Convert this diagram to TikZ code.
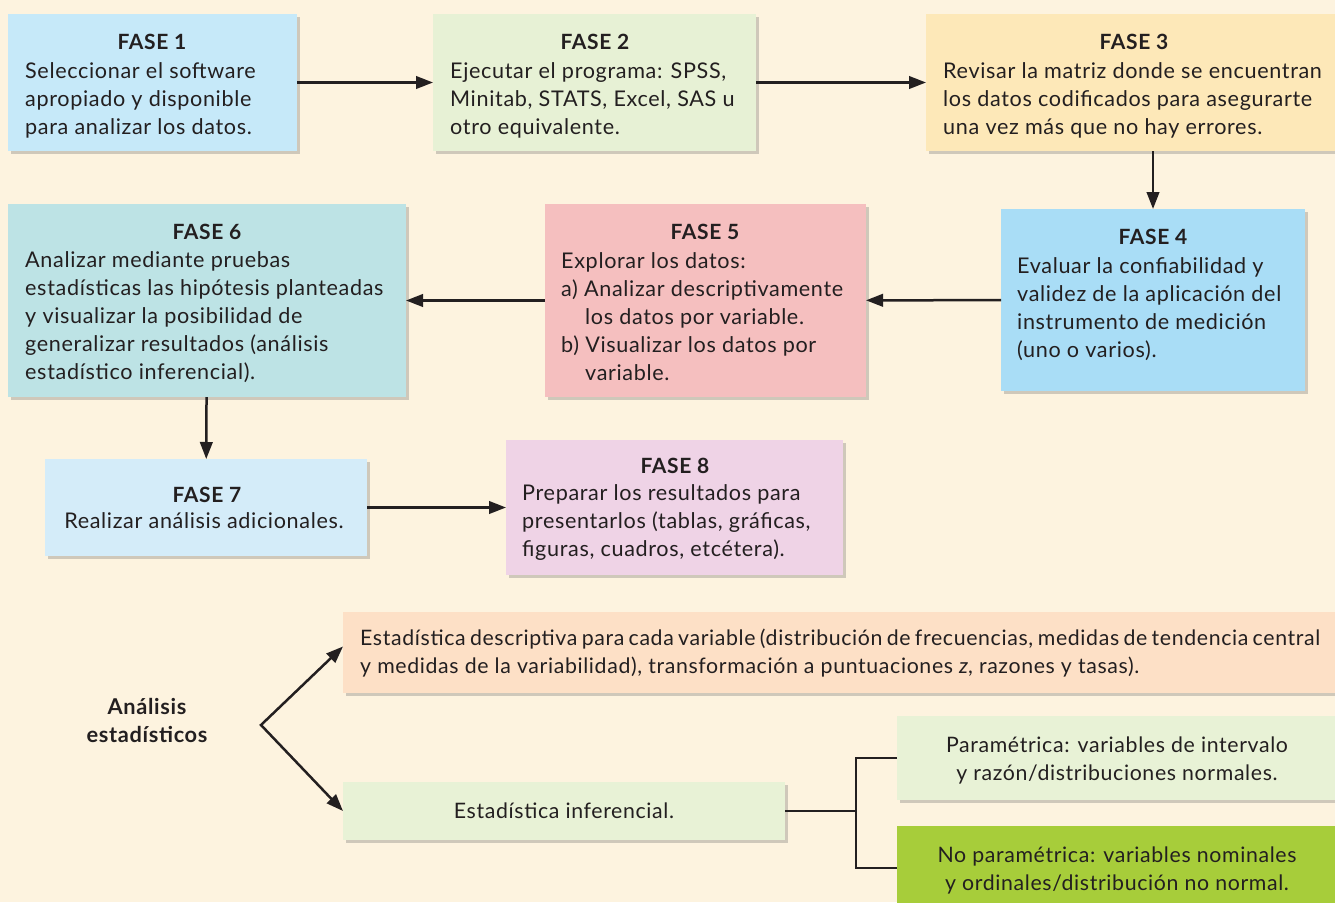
\documentclass[tikz,border=0pt]{standalone}
\usepackage{fontspec}
\setmainfont{Lato}[LetterSpace=3]
\usetikzlibrary{arrows.meta,shadows,calc}
\definecolor{bg}{HTML}{FDF3DF}
\definecolor{cf1}{HTML}{C6E9F9}
\definecolor{cf2}{HTML}{E7F1D5}
\definecolor{cf3}{HTML}{FDE8B8}
\definecolor{cf4}{HTML}{A9DDF6}
\definecolor{cf5}{HTML}{F5BFBF}
\definecolor{cf6}{HTML}{BDE3E5}
\definecolor{cf7}{HTML}{D4ECF9}
\definecolor{cf8}{HTML}{EFD3E6}
\definecolor{cdesc}{HTML}{FDE0C6}
\definecolor{cinf}{HTML}{E8F2D6}
\definecolor{cnp}{HTML}{A7CD3A}
\definecolor{ink}{HTML}{231F20}
\tikzset{
  box/.style={draw=none, inner sep=0pt, outer sep=0pt,
    drop shadow={shadow xshift=2.5pt, shadow yshift=-3pt, opacity=0.3, fill=black!60}},
  title/.style={font=\fontsize{21}{28}\selectfont\bfseries, text=ink, inner sep=0pt, anchor=center},
  body/.style={font=\fontsize{21.6}{28}\selectfont, text=ink, inner sep=0pt, align=left, anchor=west},
  small/.style={font=\fontsize{21.3}{28}\selectfont, text=ink, inner sep=0pt},
  tip/.style={Triangle[length=17pt,width=12.5pt]},
  arr/.style={draw=ink, line width=2.5pt, -{Triangle[length=17pt,width=12.5pt]}},
  lin/.style={draw=ink, line width=2.5pt}
}
\newcommand{\bx}[6]{% name, x1, y1, x2, y2, color
  \node[box, fill=#6, minimum width={(#4-#2)*1pt}, minimum height={(#5-#3)*1pt}] (#1) at ({(#2+#4)/2},{(#3+#5)/2}) {};}
\begin{document}
\begin{tikzpicture}[x=1pt,y=-1pt]
\useasboundingbox (0,0) rectangle (1335,902);
\fill[bg] (0,0) rectangle (1335,902);
% boxes
\bx{f1}{8}{14}{297}{151}{cf1}
\bx{f2}{433}{14}{756}{151}{cf2}
\bx{f3}{926}{14}{1345}{151}{cf3}
\bx{f4}{1001}{209}{1305}{391}{cf4}
\bx{f5}{545}{204}{866}{397}{cf5}
\bx{f6}{8}{204}{406}{397}{cf6}
\bx{f7}{45}{459}{367}{556}{cf7}
\bx{f8}{506}{440}{843}{575}{cf8}
\bx{desc}{343}{612}{1345}{693}{cdesc}
\bx{inf}{343}{782}{785}{840}{cinf}
\bx{param}{897}{716}{1345}{800}{cinf}
\bx{np}{897}{826}{1345}{910}{cnp}
% texts
\node[title] (t1) at (152,42) {FASE 1};
\node[body] (b1) at (25,100) {Seleccionar el software\\apropiado y disponible\\para analizar los datos.};
\node[title] (t2) at (595,42) {FASE 2};
\node[body] (b2) at (450,100) {Ejecutar el programa: SPSS,\\Minitab, STATS, Excel, SAS u\\otro equivalente.};
\node[title] (t3) at (1134,42) {FASE 3};
\node[body] (b3) at (943,100) {Revisar la matriz donde se encuentran\\los datos codificados para asegurarte\\una vez más que no hay errores.};
\node[title] (t4) at (1153,237) {FASE 4};
\node[body] (b4) at (1017,309) {Evaluar la confiabilidad y\\validez de la aplicación del\\instrumento de medición\\(uno o varios).};
\node[title] (t5) at (705,232) {FASE 5};
\node[body] (b5) at (561,317) {Explorar los datos:\\a) Analizar descriptivamente\\\hspace*{24pt}los datos por variable.\\b) Visualizar los datos por\\\hspace*{24pt}variable.};
\node[title] (t6) at (207,232) {FASE 6};
\node[body] (b6) at (25,317) {Analizar mediante pruebas\\estadísticas las hipótesis planteadas\\y visualizar la posibilidad de\\generalizar resultados (análisis\\estadístico inferencial).};
\node[title] (t7) at (207,495) {FASE 7};
\node[body, anchor=center] (b7) at (204,521) {Realizar análisis adicionales.};
\node[title] (t8) at (675,466) {FASE 8};
\node[body] (b8) at (522,523) {Preparar los resultados para\\presentarlos (tablas, gráficas,\\figuras, cuadros, etcétera).};
\node[small, anchor=west, text width=960pt, align=justify] (bd) at (360,653) {Estadística descriptiva para cada variable (distribución de frecuencias, medidas de tendencia central\linebreak y medidas de la variabilidad), transformación a puntuaciones \textit{z}, razones y tasas).};
\node[small] (bi) at (564,811) {Estadística inferencial.};
\node[small, align=center] (bp) at (1117,760) {Paramétrica: variables de intervalo\\y razón/distribuciones normales.};
\node[small, align=center] (bn) at (1117,870) {No paramétrica: variables nominales\\y ordinales/distribución no normal.};
\node[small, font=\fontsize{21.8}{28}\selectfont\bfseries, align=center] (ae) at (147,720) {Análisis\\estadísticos};
% connectors
\draw[arr] (f1) -- (f2);
\draw[arr] (f2) -- (f3);
\draw[arr] (f3.south -| f4.north) -- (f4.north);
\draw[arr] (f4) -- (f5);
\draw[arr] (f5) -- (f6);
\draw[arr] (f6) -- (f7);
\draw[arr] (f7) -- (f8);
\coordinate (v) at (261,725);
\draw[draw=ink, line width=2.5pt, {Triangle[length=17pt,width=12.5pt]}-{Triangle[length=17pt,width=12.5pt]}] ([yshift=6pt]desc.west) -- (v) -- (inf.west);
\coordinate (j) at (856,811);
\draw[lin] (inf.east) -- (j);
\draw[lin] (param.west) -| (j) |- (np.west);
\end{tikzpicture}
\end{document}
